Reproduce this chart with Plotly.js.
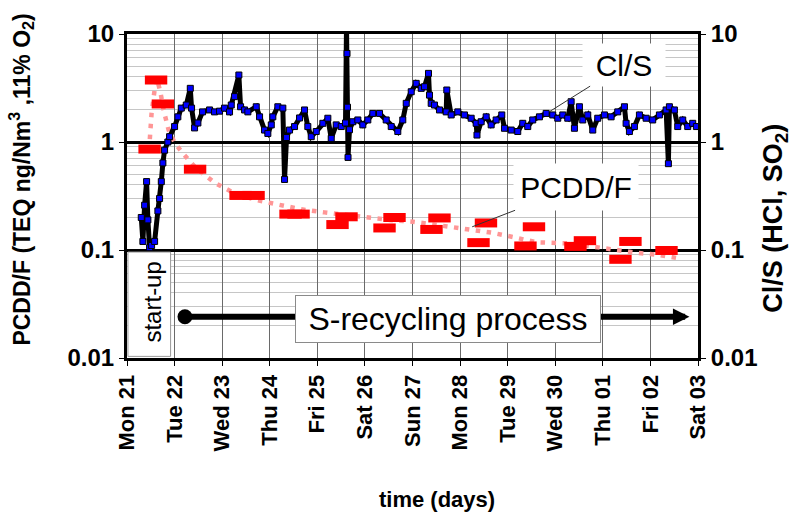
<!DOCTYPE html>
<html>
<head>
<meta charset="utf-8">
<script src="https://cdn.plot.ly/plotly-3.0.1.min.js"></script>
<style>html,body{margin:0;padding:0;background:#fff;}#chart{width:807px;height:519px;}</style>
</head>
<body>
<div id="chart"></div>
<script>
// ---- data ----
const dayLabels = ['Mon 21','Tue 22','Wed 23','Thu 24','Fri 25','Sat 26','Sun 27','Mon 28','Tue 29','Wed 30','Thu 01','Fri 02','Sat 03'];
const dayTicks = [0,1,2,3,4,5,6,7,8,9,10,11,12];

const clsDays = [0.300,0.334,0.370,0.412,0.439,0.475,0.517,0.580,0.649,0.685,
0.721,0.754,0.790,0.859,0.895,1.000,1.069,1.141,1.246,1.330,
1.357,1.420,1.490,1.588,1.735,1.840,1.945,2.050,2.155,2.191,
2.261,2.351,2.387,2.471,2.540,2.716,2.786,2.891,2.960,3.032,
3.065,3.170,3.275,3.311,3.353,3.416,3.521,3.626,3.731,3.800,
3.872,3.977,4.116,4.221,4.292,4.397,4.502,4.592,4.613,4.624,
4.634,4.645,4.676,4.746,4.851,4.956,5.061,5.166,5.307,5.447,
5.553,5.691,5.796,5.868,5.973,6.078,6.183,6.252,6.336,6.357,
6.393,6.462,6.567,6.708,6.721,6.813,6.952,7.092,7.233,7.338,
7.355,7.443,7.548,7.653,7.758,7.876,7.933,8.074,8.212,8.317,
8.422,8.527,8.668,8.809,8.947,9.053,9.158,9.263,9.334,9.403,
9.508,9.578,9.683,9.788,9.893,10.034,10.174,10.313,10.454,10.489,
10.559,10.664,10.769,10.910,11.048,11.189,11.330,11.378,11.399,11.504,
11.574,11.679,11.784,11.889,11.966];
const clsValues = [0.2,0.12,0.26,0.43,0.19,0.105,0.11,0.12,0.23,0.3,
0.43,0.64,0.84,1.0,1.12,1.39,1.71,2.06,2.2,3.14,
2.06,1.35,1.5,1.9,1.98,1.9,1.93,2.06,1.9,2.2,
2.63,4.17,2.12,1.98,1.9,2.12,1.71,1.29,1.2,1.44,
1.71,2.12,2.06,0.45,1.1,1.29,1.39,1.67,1.98,1.39,
1.12,1.25,1.49,1.66,1.08,1.44,1.39,1.5,12,6.6,
2.1,0.72,1.3,1.54,1.6,1.44,1.6,1.84,1.84,1.6,
1.39,1.25,1.6,2.28,2.92,3.49,3.14,3.25,4.32,2.72,
2.28,2.2,1.98,1.9,3.03,1.78,1.9,1.78,1.66,1.49,
1.16,1.54,1.71,1.44,1.6,1.78,1.34,1.29,1.25,1.49,
1.39,1.6,1.71,1.84,1.78,1.66,1.78,1.66,2.36,1.34,
2.12,1.6,1.78,1.29,1.66,1.78,1.71,1.9,2.12,1.49,
1.25,1.39,1.78,1.66,1.6,1.78,1.98,0.63,2.12,1.98,
1.39,1.6,1.39,1.49,1.39];

const pcddDays = [0.475,0.611,0.754,1.431,2.387,2.660,3.437,3.605,4.424,4.613,5.412,5.622,6.399,6.567,7.387,7.544,8.374,8.553,9.424,9.624,10.370,10.580,11.338];
const pcddValues = [0.86,3.75,2.25,0.56,0.32,0.32,0.215,0.215,0.172,0.203,0.16,0.2,0.155,0.198,0.117,0.178,0.109,0.164,0.108,0.122,0.082,0.12,0.099];

const trendDays = [0.464,0.517,0.580,0.632,0.706,0.769,0.874,1.000,1.147,1.456,1.840,2.261,2.716,3.170,3.662,4.151,4.607,5.061,5.517,6.006,6.708,7.197,7.653,8.143,8.599,9.298,9.788,10.279,10.733,11.189,11.645];
const trendValues = [0.84,1.86,3.03,3.83,2.84,1.98,1.29,0.99,0.81,0.57,0.42,0.335,0.29,0.261,0.238,0.223,0.21,0.199,0.19,0.183,0.167,0.155,0.145,0.131,0.118,0.115,0.107,0.1,0.094,0.09,0.083];

// ---- styling ----
const FONT = 'Arial, "Liberation Sans", sans-serif';
const minorVals = [];
[0.01,0.1,1].forEach(d => { for (let k = 2; k <= 9; k++) minorVals.push(+(d*k).toPrecision(3)); });

const traces = [
  {x: trendDays, y: trendValues, yaxis: 'y', mode: 'lines', name: 'PCDD/F trend',
   line: {color: '#ff9696', width: 4.5, dash: '4.5px,6.5px'}, hoverinfo: 'skip'},
  {x: pcddDays, y: pcddValues, yaxis: 'y', mode: 'markers', name: 'PCDD/F',
   marker: {symbol: 'line-ew', size: 16, color: '#ff0000', line: {color: '#ff0000', width: 9}}},
  {x: clsDays, y: clsValues, yaxis: 'y2', mode: 'lines+markers', name: 'Cl/S',
   line: {color: '#000000', width: 5},
   marker: {symbol: 'square', size: 6, color: '#0000ff', line: {color: '#000000', width: 1}}}
];

const tickFont = {family: FONT, size: 22, color: '#000', weight: 'bold'};
const ytickFont = {family: FONT, size: 24, color: '#000', weight: 'bold'};

const layout = {
  width: 807, height: 519,
  margin: {l: 127, r: 109, t: 34, b: 161, pad: 0},
  paper_bgcolor: '#fff', plot_bgcolor: '#fff',
  showlegend: false,
  font: {family: FONT, color: '#000'},
  xaxis: {
    range: [0, 12], tickvals: dayTicks, ticktext: dayLabels, tickangle: -90,
    tickfont: tickFont, showgrid: true, gridcolor: '#6a6a6a', gridwidth: 1,
    zeroline: false, showline: true, linecolor: '#000', linewidth: 3, mirror: true,
    ticks: 'outside', ticklen: 5, tickcolor: '#000', tickwidth: 1
  },
  yaxis: {
    type: 'log', range: [-2, 1], tickvals: [0.01, 0.1, 1, 10], ticktext: ['0.01', '0.1', '1', '10'],
    tickfont: ytickFont, showgrid: true, gridcolor: '#000', gridwidth: 3,
    minor: {tickvals: minorVals, showgrid: true, gridcolor: '#c6c6c6', gridwidth: 1, ticks: ''},
    zeroline: false, showline: true, linecolor: '#000', linewidth: 3,
    ticks: 'outside', ticklen: 5, tickcolor: '#000', tickwidth: 1
  },
  yaxis2: {
    type: 'log', range: [-2, 1], overlaying: 'y', side: 'right',
    tickvals: [0.01, 0.1, 1, 10], ticktext: ['0.01', '0.1', '1', '10'],
    tickfont: ytickFont, showgrid: false, zeroline: false,
    showline: true, linecolor: '#000', linewidth: 3,
    ticks: 'outside', ticklen: 5, tickcolor: '#000', tickwidth: 1
  },
  shapes: [
    {type: 'rect', xref: 'x', yref: 'paper', x0: 0.02, x1: 0.916, y0: 0.005, y1: 0.327,
     fillcolor: '#fff', line: {color: '#9a9a9a', width: 1}, layer: 'above'}
  ],
  annotations: [
    // axis titles
    {text: '<b>PCDD/F (TEQ ng/Nm<sup>3</sup> ,11% O<sub>2</sub>)</b>', xref: 'paper', yref: 'paper',
     x: -0.186, y: 0.55, xanchor: 'center', yanchor: 'middle', textangle: -90, showarrow: false,
     font: {family: FONT, size: 23, color: '#000'}},
    {text: '<b>Cl/S (HCl, SO<sub>2</sub>)</b>', xref: 'paper', yref: 'paper',
     x: 1.135, y: 0.43, xanchor: 'center', yanchor: 'middle', textangle: -90, showarrow: false,
     font: {family: FONT, size: 27, color: '#000'}},
    {text: '<b>time (days)</b>', xref: 'paper', yref: 'paper',
     x: 0.543, y: -0.438, xanchor: 'center', yanchor: 'middle', showarrow: false,
     font: {family: FONT, size: 22, color: '#000'}},
    // start-up
    {text: 'start-up', xref: 'x', yref: 'paper', x: 0.538, y: 0.173, xanchor: 'center', yanchor: 'middle',
     textangle: -90, showarrow: false, font: {family: FONT, size: 24, color: '#000'}},
    // S-recycling arrow
    {text: '', xref: 'x', yref: 'paper', x: 11.82, y: 0.1275, axref: 'pixel', ayref: 'pixel',
     ax: -506, ay: 0, showarrow: true, arrowhead: 2, arrowsize: 0.55, arrowwidth: 6,
     arrowcolor: '#000', arrowside: 'end+start', startarrowhead: 6, startarrowsize: 0.62, standoff: 0, startstandoff: 0},
    {text: 'S-recycling process', xref: 'x', yref: 'paper', x: 6.756, y: 0.1204,
     xanchor: 'center', yanchor: 'middle',
     showarrow: false, bgcolor: '#fff', bordercolor: '#8a8a8a', borderwidth: 1, borderpad: 2,
     width: 300, height: 42, font: {family: FONT, size: 32, color: '#000'}},
    // series labels
    {text: 'Cl/S', xref: 'x', yref: 'y2', x: 8.878, y: Math.log10(1.91), ax: 75, ay: -47,
     showarrow: true, arrowhead: 0, arrowwidth: 1, arrowcolor: '#333', bgcolor: '#fff',
     width: 80, height: 40, font: {family: FONT, size: 30, color: '#000'}},
    {text: 'PCDD/F', xref: 'x', yref: 'y', x: 7.254, y: Math.log10(0.164), ax: 104, ay: -40,
     showarrow: true, arrowhead: 0, arrowwidth: 1, arrowcolor: '#333', bgcolor: '#fff',
     width: 122, height: 44, font: {family: FONT, size: 30, color: '#000'}}
  ]
};

Plotly.newPlot('chart', traces, layout, {displayModeBar: false, staticPlot: true});
</script>
</body>
</html>
